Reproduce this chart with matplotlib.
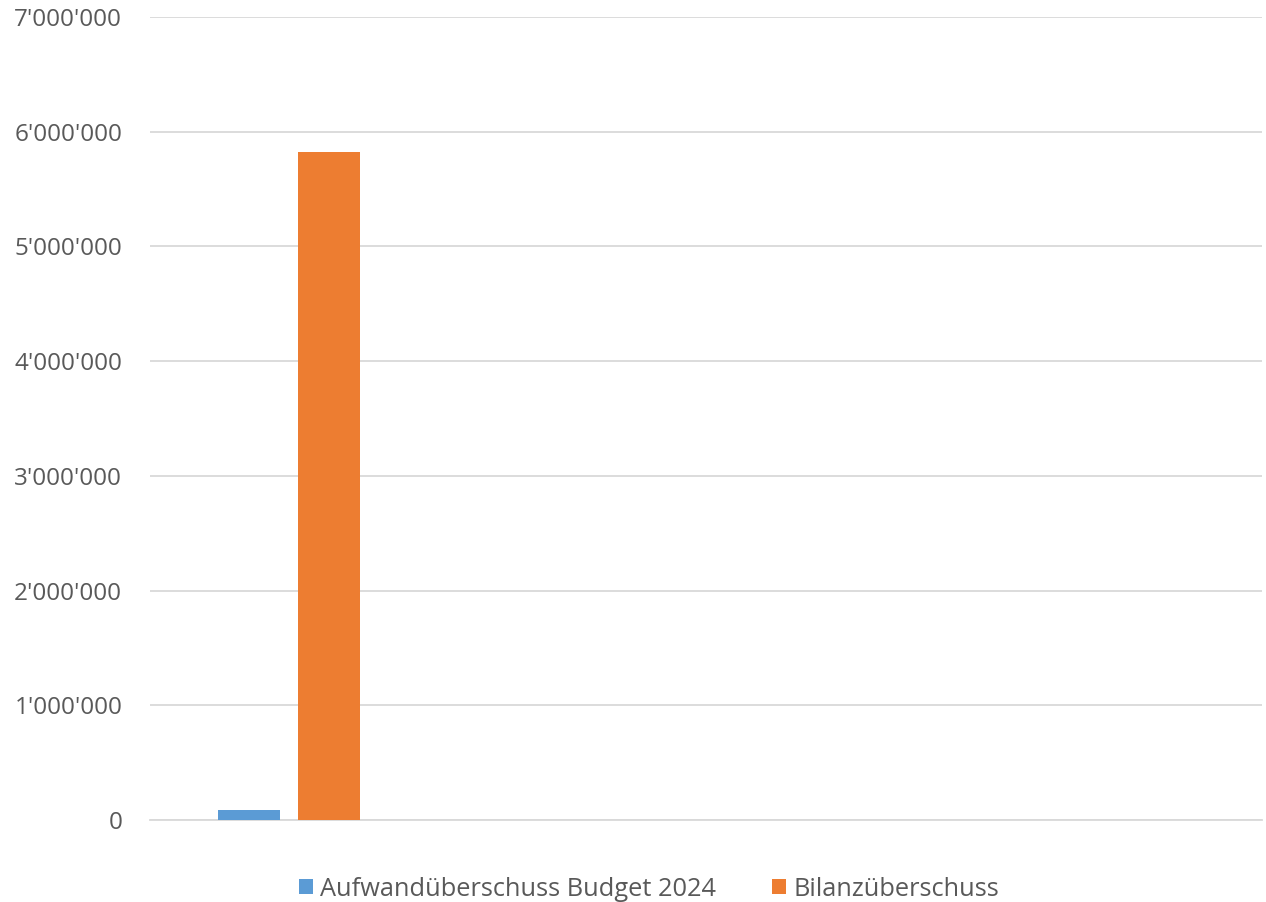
import matplotlib
matplotlib.use("Agg")
import matplotlib.pyplot as plt
import numpy as np
from matplotlib.ticker import FuncFormatter

categories = ["", "", "", ""]
aufwand = [87000, np.nan, np.nan, np.nan]
bilanz = [5827000, np.nan, np.nan, np.nan]
series_names = ["Aufwandüberschuss Budget 2024", "Bilanzüberschuss"]
yticks = [0, 1000000, 2000000, 3000000, 4000000, 5000000, 6000000, 7000000]

plt.rcParams['font.family'] = ['Open Sans', 'DejaVu Sans']
fig = plt.figure(figsize=(12.66, 9.02), dpi=100)
ax = fig.add_axes([150/1266, 1-820/902, 1112/1266, (820-17)/902])

x = np.arange(len(categories))
w = 62/278
off = 40/278
ax.bar(x - off, aufwand, w, color="#5B9BD5", label=series_names[0], zorder=3)
ax.bar(x + off, bilanz, w, color="#ED7D31", label=series_names[1], zorder=3)

ax.set_xlim(-0.5, len(categories) - 0.5)
ax.set_ylim(0, 7000000)
ax.set_yticks(yticks)
ax.yaxis.set_major_formatter(FuncFormatter(lambda v, p: f"{int(v):,}".replace(",", "'")))
ax.set_xticks([])
ax.grid(axis="y", color="#d9d9d9", linewidth=1.3, zorder=0)
for s in ["top", "right", "left"]:
    ax.spines[s].set_visible(False)
ax.spines["bottom"].set_color("#d9d9d9")
ax.spines["bottom"].set_linewidth(1.3)
ax.tick_params(axis="y", length=0, pad=20, labelsize=17.5, labelcolor="#595959")

leg = fig.legend(loc="center", bbox_to_anchor=(649/1266, 1-889/902), ncol=2, frameon=False,
                 fontsize=18.3, handlelength=0.55, handleheight=0.55, handletextpad=0.3,
                 columnspacing=2.2, labelcolor="#595959")

fig.savefig("out.png", dpi=100, facecolor="white")
